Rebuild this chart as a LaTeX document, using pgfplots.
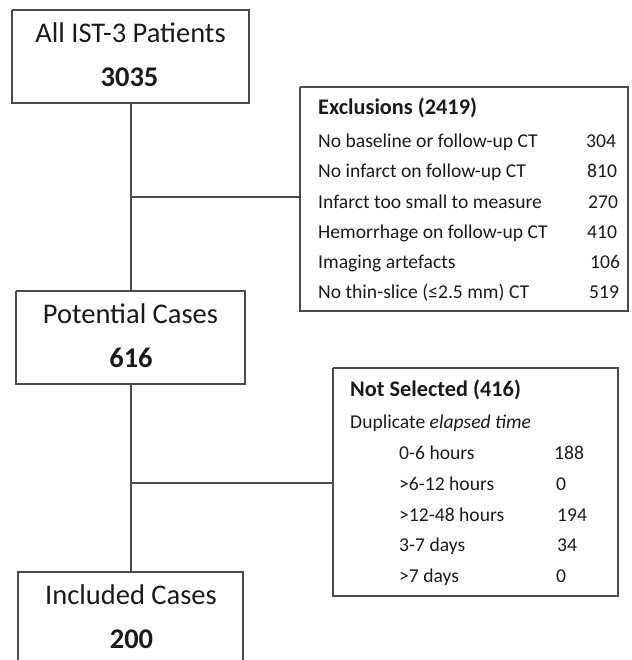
\documentclass[border=0pt]{standalone}
\usepackage{fontspec}
\setmainfont{Carlito}
\usepackage{pgfplots}
\pgfplotsset{compat=1.18}
\definecolor{ln}{HTML}{4A4A4A}
\definecolor{tx}{HTML}{1A1A1A}
\newcommand{\bigf}{\fontsize{28.5}{31}\selectfont}
\newcommand{\ttlf}{\fontsize{22.3}{25}\selectfont}
\newcommand{\smf}{\fontsize{19.6}{23}\selectfont}
\begin{document}
\begin{tikzpicture}
\begin{axis}[
  hide axis, scale only axis,
  width=631pt, height=660pt,
  xmin=0, xmax=631, ymin=0, ymax=660,
  y dir=reverse, clip=true,
  conn/.style={color=ln, line width=1.3pt, mark=none, solid},
  nodes={inner sep=0pt, text=tx}
]
% boxes
\addplot[conn] coordinates {(12,10) (249,10) (249,103) (12,103) (12,10)};
\addplot[conn] coordinates {(16,291) (245,291) (245,384) (16,384) (16,291)};
\addplot[conn] coordinates {(18,680) (18,572) (243,572) (243,680)};
\addplot[conn] coordinates {(300,87) (628,87) (628,311) (300,311) (300,87)};
\addplot[conn] coordinates {(333,368) (618,368) (618,596) (333,596) (333,368)};
% connectors
\addplot[conn] coordinates {(131,103) (131,291)};
\addplot[conn] coordinates {(131,197) (300,197)};
\addplot[conn] coordinates {(131,384) (131,572)};
\addplot[conn] coordinates {(131,483) (333,483)};
% main boxes text
\node[anchor=base, font=\bigf] at (axis cs:130.5,43) {All IST-3 Patients};
\node[anchor=base, font=\bigf\bfseries] at (axis cs:129.5,87) {3035};
\node[anchor=base, font=\bigf] at (axis cs:130.5,323) {Potential Cases};
\node[anchor=base, font=\bigf\bfseries] at (axis cs:131,367) {616};
\node[anchor=base, font=\bigf] at (axis cs:131,604) {Included Cases};
\node[anchor=base, font=\bigf\bfseries] at (axis cs:131.5,648) {200};
% exclusions
\node[anchor=base west, font=\ttlf\bfseries] at (axis cs:318,115) {Exclusions (2419)};
\node[anchor=base west, font=\smf] at (axis cs:318,148) {No baseline or follow-up CT};
\node[anchor=base west, font=\smf] at (axis cs:318,178) {No infarct on follow-up CT};
\node[anchor=base west, font=\smf] at (axis cs:318,208) {Infarct too small to measure};
\node[anchor=base west, font=\smf] at (axis cs:318,238) {Hemorrhage on follow-up CT};
\node[anchor=base west, font=\smf] at (axis cs:318,268) {Imaging artefacts};
\node[anchor=base west, font=\smf] at (axis cs:318,298) {No thin-slice (≤2.5 mm) CT};
\node[anchor=base west, font=\smf] at (axis cs:586,148) {304};
\node[anchor=base west, font=\smf] at (axis cs:587,178) {810};
\node[anchor=base west, font=\smf] at (axis cs:588,208) {270};
\node[anchor=base west, font=\smf] at (axis cs:587,238) {410};
\node[anchor=base west, font=\smf] at (axis cs:590,268) {106};
\node[anchor=base west, font=\smf] at (axis cs:589,298) {519};
% not selected
\node[anchor=base west, font=\ttlf\bfseries] at (axis cs:350,396) {Not Selected (416)};
\node[anchor=base west, font=\smf] at (axis cs:350,428) {Duplicate \textit{elapsed time}};
\node[anchor=base west, font=\smf] at (axis cs:399,459) {0-6 hours};
\node[anchor=base west, font=\smf] at (axis cs:399,490) {>6-12 hours};
\node[anchor=base west, font=\smf] at (axis cs:399,521) {>12-48 hours};
\node[anchor=base west, font=\smf] at (axis cs:399,551) {3-7 days};
\node[anchor=base west, font=\smf] at (axis cs:399,582) {>7 days};
\node[anchor=base west, font=\smf] at (axis cs:554,459) {188};
\node[anchor=base west, font=\smf] at (axis cs:556,490) {0};
\node[anchor=base west, font=\smf] at (axis cs:557,521) {194};
\node[anchor=base west, font=\smf] at (axis cs:557,551) {34};
\node[anchor=base west, font=\smf] at (axis cs:556,582) {0};
\end{axis}
\pgfresetboundingbox
\path (0,0) rectangle (631pt,660pt);
\end{tikzpicture}
\end{document}
